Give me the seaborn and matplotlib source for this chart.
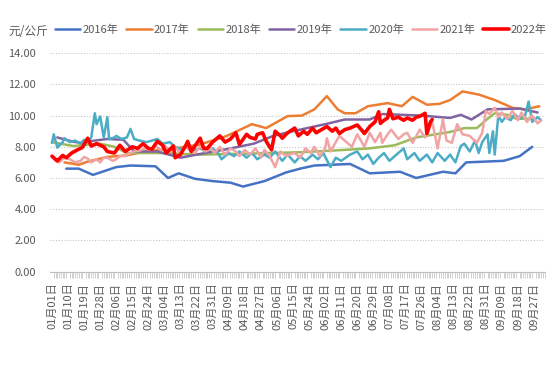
import pandas as pd
import matplotlib
matplotlib.use("Agg")
import matplotlib.pyplot as plt
import seaborn as sns

# -------------------------------
# Data (day offset from 01-01, price in 元/公斤)
# -------------------------------
days_2016 = [8, 15, 23, 36, 44, 58, 65, 71, 80, 90, 100, 107, 119, 131, 139, 147,
             167, 178, 195, 204, 219, 226, 232, 253, 262, 269]
vals_2016 = [6.6, 6.6, 6.2, 6.7, 6.8, 6.75, 6.0, 6.3, 5.95, 5.8, 5.7, 5.45, 5.8, 6.35,
             6.6, 6.8, 6.9, 6.3, 6.4, 6.0, 6.4, 6.3, 7.0, 7.1, 7.4, 8.0]

days_2017 = [7, 15, 20, 31, 42, 52, 69, 83, 98, 112, 120, 132, 140, 147, 154, 160,
             164, 170, 177, 188, 196, 202, 210, 217, 223, 230, 239, 248, 258, 265, 273]
vals_2017 = [7.0, 6.85, 7.05, 7.35, 7.45, 7.7, 7.9, 8.15, 8.7, 9.45, 9.2, 9.97, 10.0,
             10.4, 11.25, 10.4, 10.15, 10.15, 10.6, 10.8, 10.6, 11.2, 10.7, 10.75,
             11.0, 11.55, 11.35, 11.0, 10.5, 10.4, 10.6]

days_2018 = [0, 12, 27, 35, 42, 61, 83, 105, 122, 139, 156, 178, 192, 204, 223,
             231, 238, 244, 248, 255, 260, 268]
vals_2018 = [8.3, 8.05, 8.2, 8.0, 7.6, 7.6, 7.5, 7.55, 7.6, 7.65, 7.75, 7.9, 8.1,
             8.6, 8.95, 9.2, 9.2, 9.8, 10.15, 10.05, 9.8, 9.8]

days_2019 = [3, 11, 16, 24, 31, 40, 46, 59, 72, 81, 98, 113, 124, 135, 155, 164,
             178, 185, 207, 223, 229, 235, 244, 262, 272]
vals_2019 = [8.6, 8.35, 8.25, 8.4, 8.5, 8.45, 7.7, 7.7, 7.3, 7.5, 7.85, 8.2, 8.7,
             9.0, 9.5, 9.75, 9.75, 10.1, 10.0, 9.85, 10.05, 9.75, 10.4, 10.45, 10.2]

days_2020 = [0, 1, 3, 6, 7, 10, 13, 16, 18, 20, 22, 24, 25, 27, 29, 31, 32, 35, 36,
             39, 42, 44, 46, 49, 53, 56, 59, 62, 66, 69, 73, 76, 80, 83, 86, 90, 93,
             95, 99, 102, 105, 109, 112, 115, 119, 122, 125, 129, 132, 136, 139, 142,
             146, 149, 152, 156, 159, 162, 167, 171, 174, 177, 180, 183, 186, 189,
             193, 197, 199, 203, 206, 210, 213, 216, 220, 223, 226, 229, 231, 234,
             237, 239, 241, 244, 245, 247, 248, 250, 252, 254, 257, 259, 262, 265,
             267, 269, 272, 274]
vals_2020 = [8.25, 8.8, 7.95, 8.3, 8.55, 8.3, 8.4, 8.2, 8.45, 8.3, 8.6, 10.15, 9.45,
             9.95, 8.6, 9.9, 8.5, 8.6, 8.7, 8.5, 8.6, 9.15, 8.5, 8.4, 8.3, 8.4, 8.5,
             8.2, 8.3, 8.0, 7.8, 8.1, 7.8, 7.9, 7.7, 7.9, 7.6, 7.2, 7.6, 7.4, 7.7,
             7.3, 7.6, 7.2, 7.5, 7.3, 7.7, 7.1, 7.5, 7.0, 7.4, 7.1, 7.5, 7.2, 7.6,
             6.7, 7.3, 7.1, 7.5, 7.7, 7.2, 7.5, 6.9, 7.3, 7.6, 7.1, 7.5, 7.9, 7.2,
             7.6, 7.1, 7.5, 7.0, 7.6, 7.1, 7.5, 7.0, 8.05, 8.2, 7.7, 8.4, 7.6, 8.3,
             8.8, 7.6, 9.0, 7.5, 10.0, 9.6, 9.9, 9.7, 10.1, 9.8, 10.0, 10.9, 9.6,
             9.9, 9.7]

days_2021 = [0, 2, 4, 7, 10, 13, 16, 18, 20, 22, 25, 27, 29, 31, 34, 36, 38, 41,
             44, 46, 49, 52, 55, 58, 61, 63, 66, 69, 72, 75, 77, 80, 83, 86, 89, 91,
             94, 97, 100, 103, 105, 108, 111, 114, 117, 119, 122, 125, 128, 131, 133,
             136, 139, 142, 145, 147, 150, 153, 154, 156, 159, 161, 164, 168, 171,
             175, 178, 181, 184, 185, 188, 190, 194, 197, 199, 202, 206, 209, 210,
             213, 216, 219, 221, 224, 227, 230, 234, 238, 241, 243, 245, 248, 250,
             252, 255, 258, 261, 263, 266, 269, 272, 274]
vals_2021 = [7.4, 7.1, 7.0, 7.3, 7.2, 7.0, 7.1, 7.35, 7.25, 7.0, 7.2, 7.0, 7.3, 7.3,
             7.1, 7.2, 7.4, 7.4, 7.6, 7.7, 7.75, 7.9, 7.8, 8.05, 7.8, 8.1, 7.7, 7.95,
             7.6, 8.0, 7.8, 7.6, 8.0, 7.7, 7.9, 7.6, 8.0, 7.5, 7.9, 7.7, 7.4, 7.8,
             7.5, 7.9, 7.3, 7.8, 7.4, 6.7, 7.7, 7.4, 7.5, 7.6, 7.3, 7.9, 7.6, 8.0,
             7.4, 7.9, 8.55, 7.7, 8.3, 8.7, 8.4, 8.0, 8.8, 8.0, 8.9, 8.3, 8.9, 8.25,
             8.8, 9.1, 8.5, 8.8, 8.9, 8.25, 9.1, 8.6, 8.8, 9.6, 7.9, 9.75, 8.4, 8.25,
             9.45, 8.8, 8.7, 8.25, 8.9, 10.3, 10.1, 10.5, 9.9, 10.2, 9.8, 10.3, 9.7,
             10.2, 9.6, 10.0, 9.5, 9.7]

days_2022 = [0, 2, 3, 6, 8, 11, 15, 17, 20, 22, 25, 29, 31, 35, 38, 41, 45, 48, 51,
             54, 56, 59, 62, 64, 68, 69, 72, 75, 76, 78, 81, 83, 85, 87, 90, 92, 94,
             97, 100, 103, 105, 109, 111, 114, 115, 118, 120, 123, 125, 128, 129,
             132, 136, 138, 141, 143, 146, 148, 151, 154, 157, 159, 161, 164, 167,
             171, 174, 175, 178, 181, 183, 184, 186, 188, 189, 191, 194, 197, 199,
             202, 204, 206, 209, 210, 212, 213]
vals_2022 = [7.4, 7.2, 7.1, 7.45, 7.3, 7.6, 7.85, 7.95, 8.55, 8.05, 8.2, 8.0, 7.7,
             7.6, 8.1, 7.7, 8.0, 7.9, 8.2, 7.9, 7.85, 8.35, 8.1, 7.6, 8.05, 7.3, 7.5,
             8.1, 8.35, 7.7, 8.2, 8.55, 7.9, 7.9, 8.3, 8.5, 8.7, 8.3, 8.5, 8.9, 8.15,
             8.8, 8.6, 8.5, 8.8, 8.9, 8.35, 7.8, 9.0, 8.7, 8.55, 8.9, 9.2, 8.7, 9.0,
             8.8, 9.2, 8.9, 9.1, 9.3, 9.0, 9.2, 8.85, 9.1, 9.2, 9.4, 9.0, 8.85, 9.3,
             9.6, 10.25, 9.5, 9.7, 9.85, 10.4, 9.8, 9.9, 9.7, 9.85, 9.7, 9.9, 9.95,
             10.15, 8.85, 9.6, 9.75]

series_names = ["2016年", "2017年", "2018年", "2019年", "2020年", "2021年", "2022年"]
series_days = [days_2016, days_2017, days_2018, days_2019, days_2020, days_2021, days_2022]
series_vals = [vals_2016, vals_2017, vals_2018, vals_2019, vals_2020, vals_2021, vals_2022]
colors = ["#4472C4", "#ED7D31", "#9BBB59", "#8064A2", "#4BACC6", "#F2A3A3", "#FF0000"]
widths = [1.8, 1.8, 1.8, 1.8, 1.8, 1.8, 2.6]

# x axis: 01-01 .. 10-02 (leap year calendar), label every 9 days
axis_start = pd.Timestamp("2020-01-01")
tick_days = list(range(0, 271, 9))
tick_labels = [f"{d.month:02d}月{d.day:02d}日" for d in
               (axis_start + pd.Timedelta(days=t) for t in tick_days)]

# -------------------------------
# Plot
# -------------------------------
sns.set_style("white")
plt.rcParams["font.family"] = ["Noto Sans CJK SC", "DejaVu Sans"]

fig = plt.figure(figsize=(5.6, 3.67), dpi=100)
ax = fig.add_axes([0.0893, 0.260, 0.884, 0.595])

for name, d, v, c, w in zip(series_names, series_days, series_vals, colors, widths):
    sns.lineplot(x=d, y=v, color=c, linewidth=w, label=name, ax=ax,
                 sort=False, estimator=None)

ax.set_ylim(0, 14)
ax.set_yticks(range(0, 15, 2))
ax.set_yticklabels([f"{t:.2f}" for t in range(0, 15, 2)])
ax.set_xlim(-1.1, 276.2)
ax.set_xticks(tick_days)
ax.set_xticklabels(tick_labels, rotation=90)
ax.set_xticks(range(0, 277), minor=True)
ax.set_xlabel("")
ax.set_ylabel("")

gray = "#595959"
ax.tick_params(axis="y", length=0, labelsize=8, colors=gray, pad=10)
ax.tick_params(axis="x", which="major", bottom=True, length=0, labelsize=8,
               colors=gray, pad=8)
ax.tick_params(axis="x", which="minor", bottom=True, length=4, width=0.5,
               color="#BFBFBF", direction="out")
ax.yaxis.grid(True, linestyle=(0, (1, 1.5)), color="#C8C8C8", linewidth=0.8)
ax.set_axisbelow(True)
for side in ["top", "right", "left"]:
    ax.spines[side].set_visible(False)
ax.spines["bottom"].set_color("#BFBFBF")
ax.spines["bottom"].set_linewidth(0.8)

ax.get_legend().remove()
handles, labels = ax.get_legend_handles_labels()
fig.legend(handles, labels, loc="center left", bbox_to_anchor=(0.08, 0.92),
           ncol=7, frameon=False, fontsize=8, handlelength=2.3, handletextpad=0.2,
           columnspacing=0.7, labelcolor=gray)
fig.text(0.015, 0.915, "元/公斤", fontsize=8.5, color=gray, va="center")

plt.savefig("out.png", dpi=100)
